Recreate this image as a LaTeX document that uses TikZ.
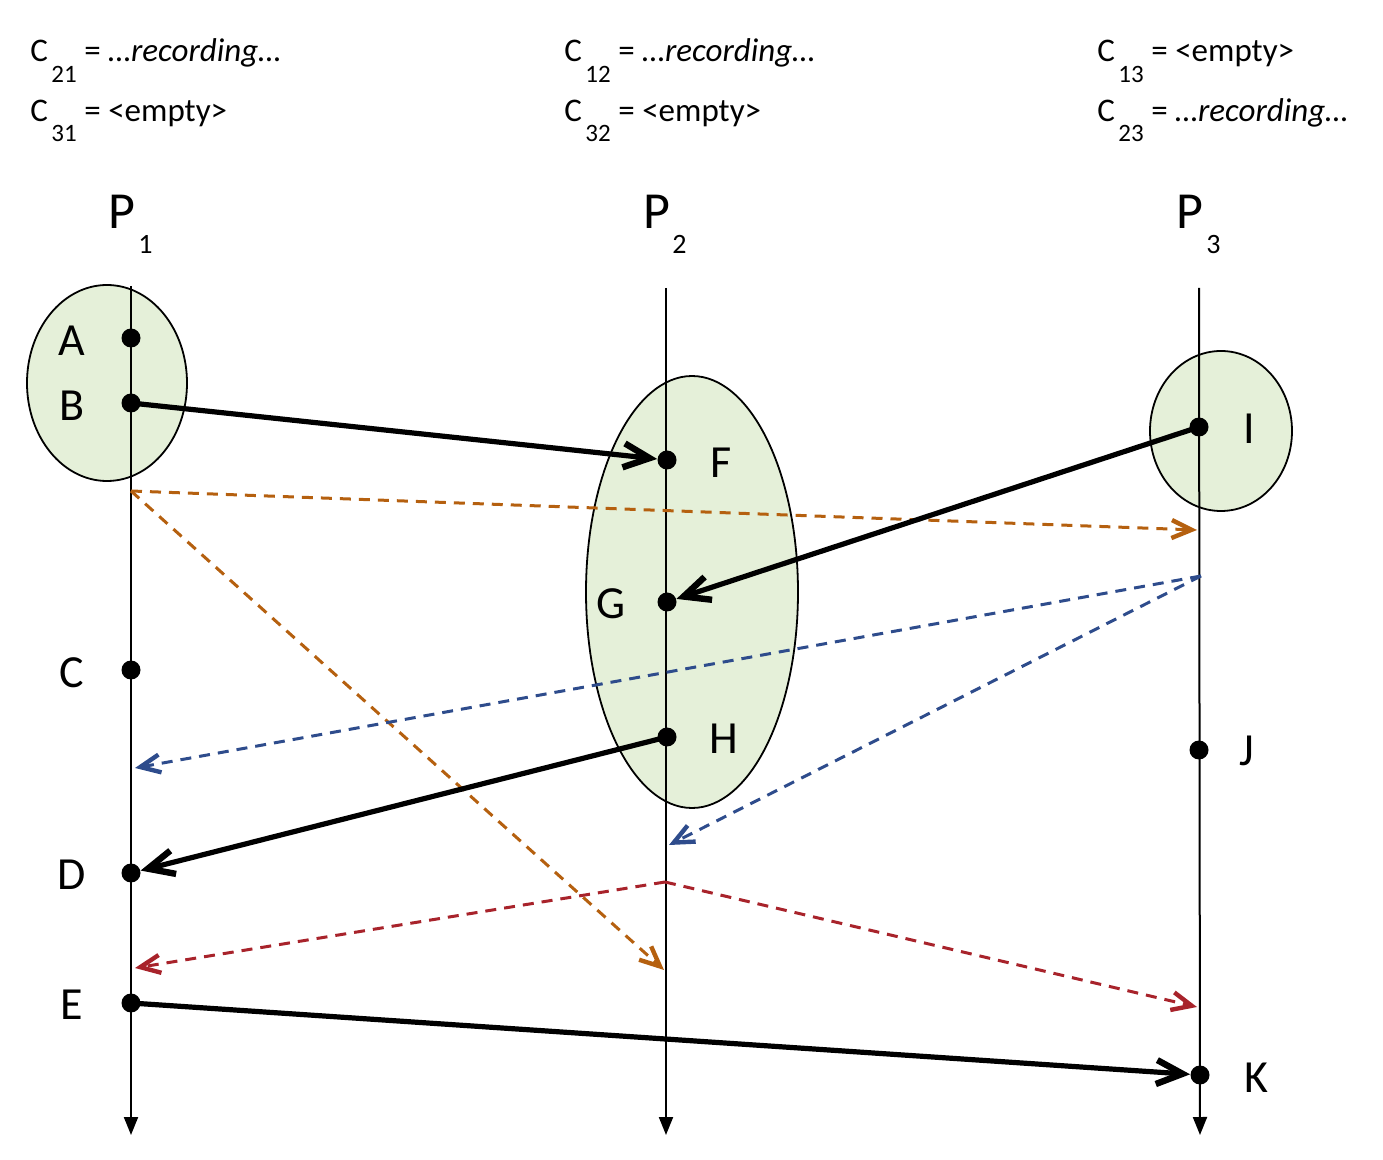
\documentclass[tikz,border=0pt]{standalone}
\usepackage{fontspec}
\setmainfont{Carlito}
\usetikzlibrary{arrows.meta}
\definecolor{gfill}{HTML}{E5F0D9}
\definecolor{morange}{HTML}{B5600F}
\definecolor{mblue}{HTML}{2E4C8C}
\definecolor{mred}{HTML}{A8232B}
\begin{document}
\begin{tikzpicture}[x=0.5pt,y=-0.5pt,
  life/.style={line width=1pt,-{Triangle[length=9pt,width=7pt]}},
  group/.style={draw=black,line width=0.9pt,fill=gfill},
  dot/.style={circle,fill=black,inner sep=0pt,minimum size=9.5pt},
  lbl/.style={font=\fontsize{23}{25}\selectfont,inner sep=0pt},
  plbl/.style={font=\fontsize{26}{28}\selectfont,inner sep=0pt,anchor=base west},
  psub/.style={font=\fontsize{14}{15}\selectfont,inner sep=0pt,anchor=base west},
  toptxt/.style={font=\fontsize{16.5}{18}\selectfont,inner sep=0pt,anchor=base west},
  topsub/.style={font=\fontsize{12.5}{14}\selectfont,inner sep=0pt,anchor=base west},
  msg/.style={line width=2.6pt,-{Straight Barb[length=13pt,width=12pt,line width=3.2pt]}},
  dmsg/.style={line width=1.5pt,dash pattern=on 5.5pt off 4pt,-{Straight Barb[length=10pt,width=9pt,line width=2.2pt]}},
]
\useasboundingbox (0,0) rectangle (1383,1160);
% top texts
\node[toptxt] (t1) at (30,62) {C};
\node[topsub] (t1s) at (51,83) {21};
\node[toptxt] (t1e) at (84,62) {= \textit{…recording…}};
\node[toptxt] (t2) at (30,122) {C};
\node[topsub] (t2s) at (51,142) {31};
\node[toptxt] (t2e) at (84,122) {= <empty>};
\node[toptxt] (t3) at (564,62) {C};
\node[topsub] (t3s) at (585,83) {12};
\node[toptxt] (t3e) at (618,62) {= \textit{…recording…}};
\node[toptxt] (t4) at (564,122) {C};
\node[topsub] (t4s) at (585,142) {32};
\node[toptxt] (t4e) at (618,122) {= <empty>};
\node[toptxt] (t5) at (1097,62) {C};
\node[topsub] (t5s) at (1118,83) {13};
\node[toptxt] (t5e) at (1151,62) {= <empty>};
\node[toptxt] (t6) at (1097,122) {C};
\node[topsub] (t6s) at (1118,142) {23};
\node[toptxt] (t6e) at (1151,122) {= \textit{…recording…}};
% process labels
\node[plbl] (p1) at (108,229) {P};
\node[psub] (p1s) at (138,254) {1};
\node[plbl] (p2) at (643,229) {P};
\node[psub] (p2s) at (672,254) {2};
\node[plbl] (p3) at (1176,229) {P};
\node[psub] (p3s) at (1206,254) {3};
% groups
\path[group] (107,383) ellipse [x radius=80, y radius=98];
\path[group] (692,592) ellipse [x radius=106, y radius=216];
\path[group] (1221,431) ellipse [x radius=71, y radius=80];
% lifelines
\coordinate (l1t) at (131,286);
\coordinate (l1b) at (131,1135);
\coordinate (l2t) at (666,288);
\coordinate (l2b) at (666,1135);
\coordinate (l3t) at (1199,288);
\coordinate (l3b) at (1200,1135);
\draw[life] (l1t) -- (l1b);
\draw[life] (l2t) -- (l2b);
\draw[life] (l3t) -- (l3b);
% events
\node[dot] (A) at (131,338) {};
\node[dot] (B) at (131,403) {};
\node[dot] (C) at (131,670) {};
\node[dot] (D) at (131,873) {};
\node[dot] (E) at (131,1003) {};
\node[dot] (F) at (667,460) {};
\node[dot] (G) at (667,602) {};
\node[dot] (H) at (667,737) {};
\node[dot] (I) at (1199,427) {};
\node[dot] (J) at (1199,750) {};
\node[dot] (K) at (1200,1075) {};
\node[lbl] (Al) at (72,341) {A};
\node[lbl] (Bl) at (72,406) {B};
\node[lbl] (Cl) at (72,673) {C};
\node[lbl] (Dl) at (72,875) {D};
\node[lbl] (El) at (72,1005) {E};
\node[lbl] (Fl) at (721,463) {F};
\node[lbl] (Gl) at (611,604) {G};
\node[lbl] (Hl) at (724,739) {H};
\node[lbl] (Il) at (1249,429) {I};
\node[lbl] (Jl) at (1247,751) {J};
\node[lbl] (Kl) at (1256,1078) {K};
% markers
\coordinate (o1) at (131,491);
\coordinate (o2) at (1197,530);
\coordinate (o3) at (664,970);
\coordinate (b1) at (1201,576);
\coordinate (b2) at (135,768);
\coordinate (b3) at (669,845);
\coordinate (r1) at (665,882);
\coordinate (r2) at (135,968);
\coordinate (r3) at (1197,1007);
\draw[dmsg,morange] (o1) -- (o2);
\draw[dmsg,morange] (o1) -- (o3);
\draw[dmsg,mblue] (b1) -- (b2);
\draw[dmsg,mblue] (b1) -- (b3);
\draw[dmsg,mred] (r1) -- (r2);
\draw[dmsg,mred] (r1) -- (r3);
% messages
\draw[msg] (B.center) -- (F);
\draw[msg] (I.center) -- (G);
\draw[msg] (H.center) -- (D);
\draw[msg] (E.center) -- (K);
\end{tikzpicture}
\end{document}
